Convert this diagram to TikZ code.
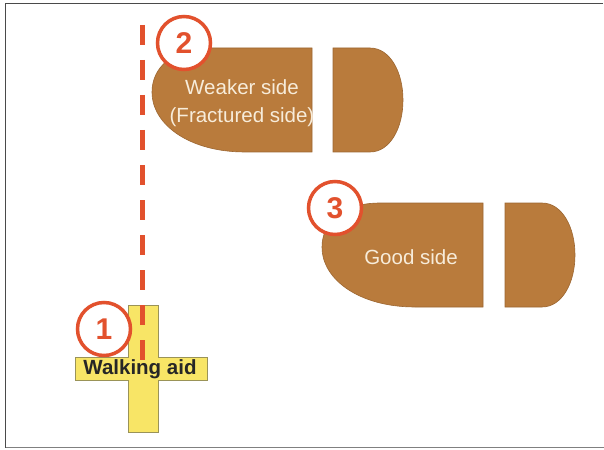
\documentclass[tikz,border=0pt]{standalone}
\usepackage{fontspec}
\setmainfont{Liberation Sans}
\definecolor{shoe}{HTML}{B97B3C}
\definecolor{shoeedge}{HTML}{9C6631}
\definecolor{cream}{HTML}{F7ECDA}
\definecolor{mark}{HTML}{E2512D}
\definecolor{aid}{HTML}{F8E566}
\definecolor{aidedge}{HTML}{9A9358}
\definecolor{frame}{HTML}{4A4A4A}
\tikzset{
  foot/.style={fill=shoe, draw=shoeedge, line width=0.6pt},
  footlabel/.style={text=cream, font=\fontsize{20.5}{24}\selectfont, align=center, inner sep=0pt},
  stepmark/.style={circle, draw=mark, fill=white, line width=3.5pt, minimum size=53pt, inner sep=0pt,
    text=mark, font=\bfseries\fontsize{30}{30}\selectfont},
  guide/.style={draw=mark, line width=5pt, dash pattern=on 20pt off 15pt},
}
\begin{document}
\begin{tikzpicture}[x=1pt,y=-1pt]
\useasboundingbox (0,0) rectangle (604,449);
% frame
\draw[frame, line width=1.6pt] (603,3.5) -- (5.5,3.5) -- (5.5,447.5);
\draw[gray, line width=1.6pt] (5.5,447.5) -- (604,447.5);

% walking aid (cross)
\draw[fill=aid, draw=aidedge, line width=0.8pt]
  (128,305) -- (158,305) -- (158,357) -- (207,357) -- (207,380) -- (158,380)
  -- (158,432) -- (128,432) -- (128,380) -- (75,380) -- (75,357) -- (128,357) -- cycle;

% dashed walking line
\coordinate (g1) at (142,25);
\coordinate (g2) at (142,360);
\draw[guide] (g1) -- (g2);

\node[font=\bfseries\fontsize{20.5}{22}\selectfont, text=black!85, inner sep=0pt] (aidlabel) at (140,369) {Walking aid};

% foot 2: weaker side
\draw[foot] (312,48) -- (210,48) .. controls (172,48) and (152,68) .. (152,92)
  .. controls (152,125) and (190,152) .. (245,152) -- (312,152) -- cycle;
\draw[foot] (333,48) -- (370,48) .. controls (390,48) and (403,72) .. (403,100)
  .. controls (403,128) and (390,152) .. (370,152) -- (333,152) -- cycle;
\node[footlabel] (weak) at (242,103) {Weaker side\\[4pt](Fractured side)};

% foot 3: good side
\begin{scope}[shift={(170,155)}]
\draw[foot] (313,48) -- (210,48) .. controls (172,48) and (152,68) .. (152,92)
  .. controls (152,125) and (190,152) .. (245,152) -- (313,152) -- cycle;
\draw[foot] (335,48) -- (372,48) .. controls (392,48) and (405,72) .. (405,100)
  .. controls (405,128) and (392,152) .. (372,152) -- (335,152) -- cycle;
\end{scope}
\node[footlabel] (good) at (411,257) {Good side};

% step numbers
\node[stepmark] (s1) at (104,329) {1};
\node[stepmark] (s2) at (184,43) {2};
\node[stepmark] (s3) at (335,208) {3};
\end{tikzpicture}
\end{document}
